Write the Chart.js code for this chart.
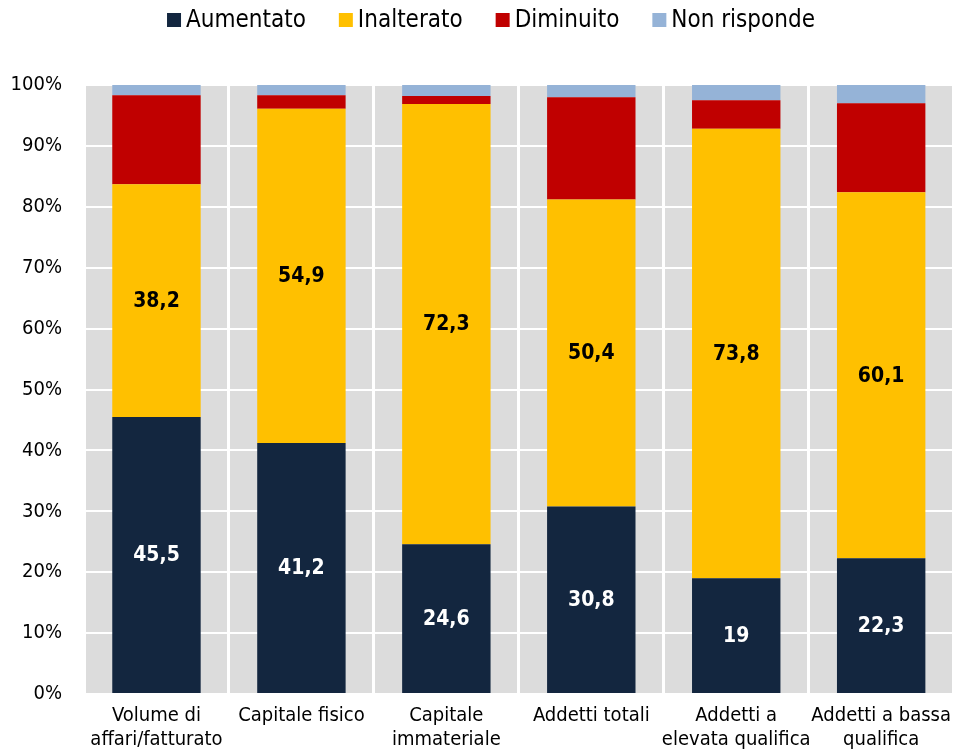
<!DOCTYPE html>
<html>
<head>
<meta charset="utf-8">
<script src="https://cdn.jsdelivr.net/npm/chart.js@4.4.1/dist/chart.umd.min.js"></script>
<style>
  html, body { margin: 0; padding: 0; background: #fff; overflow: hidden; }
  #wrap { width: 961px; height: 753px; position: relative; }
</style>
</head>
<body>
<div id="wrap"><canvas id="chart"></canvas></div>
<script>
// --- Data ---
const categories = [
    ['Volume di', 'affari/fatturato'],
    'Capitale fisico',
    ['Capitale', 'immateriale'],
    'Addetti totali',
    ['Addetti a', 'elevata qualifica'],
    ['Addetti a bassa', 'qualifica']
];
const seriesNames = ['Aumentato', 'Inalterato', 'Diminuito', 'Non risponde'];
const aumentato   = [45.5, 41.2, 24.6, 30.8, 19.0, 22.3];
const inalterato  = [38.2, 54.9, 72.3, 50.4, 73.8, 60.1];
const diminuito   = [14.6, 2.2, 1.3, 16.8, 4.7, 14.6];
const nonRisponde = [1.7, 1.7, 1.8, 2.0, 2.5, 3.0];
const yTicks = [0, 10, 20, 30, 40, 50, 60, 70, 80, 90, 100];

const colors = ['#13263f', '#ffc000', '#c00000', '#95b3d7'];
const FONT = "'Liberation Sans Narrow', 'Arial Narrow', 'DejaVu Sans Condensed', sans-serif";

// grey plot background
const plotBg = {
    id: 'plotBg',
    beforeDraw(chart) {
        const { ctx, chartArea: a } = chart;
        ctx.save();
        ctx.fillStyle = '#dcdcdc';
        ctx.fillRect(a.left, a.top, a.right - a.left, a.bottom - a.top);
        ctx.restore();
    }
};

// value labels on the first two series
const valueLabels = {
    id: 'valueLabels',
    afterDatasetsDraw(chart) {
        const ctx = chart.ctx;
        ctx.save();
        ctx.font = 'bold 21px ' + FONT;
        ctx.textAlign = 'center';
        ctx.textBaseline = 'middle';
        [0, 1].forEach(di => {
            const meta = chart.getDatasetMeta(di);
            const ds = chart.data.datasets[di];
            ctx.fillStyle = di === 0 ? '#ffffff' : '#000000';
            meta.data.forEach((bar, i) => {
                const txt = String(ds.data[i]).replace('.', ',');
                ctx.fillText(txt, bar.x, (bar.y + bar.base) / 2 + 1);
            });
        });
        ctx.restore();
    }
};

// legend on top, compact spacing like the original
const topLegend = {
    id: 'topLegend',
    afterDraw(chart) {
        const ctx = chart.ctx;
        ctx.save();
        ctx.font = '24px ' + FONT;
        ctx.textBaseline = 'middle';
        const box = 14, gap = 5, itemGap = 33;
        const widths = seriesNames.map(n => ctx.measureText(n).width);
        const total = widths.reduce((s, w) => s + box + gap + w, 0) + itemGap * (seriesNames.length - 1);
        let x = 491 - total / 2;
        const cy = 20;
        seriesNames.forEach((n, i) => {
            ctx.fillStyle = colors[i];
            ctx.fillRect(x, cy - box / 2, box, box);
            ctx.fillStyle = '#000';
            ctx.fillText(n, x + box + gap, cy + 1);
            x += box + gap + widths[i] + itemGap;
        });
        ctx.restore();
    }
};

const datasets = [aumentato, inalterato, diminuito, nonRisponde].map((d, i) => ({
    label: seriesNames[i],
    data: d,
    backgroundColor: colors[i],
    borderWidth: 0,
    barPercentage: 0.61,
    categoryPercentage: 1.0
}));

new Chart(document.getElementById('chart'), {
    type: 'bar',
    data: { labels: categories, datasets },
    options: {
        responsive: true,
        maintainAspectRatio: false,
        animation: false,
        layout: { padding: { top: 85, right: 0, bottom: 0, left: 0 } },
        plugins: {
            legend: { display: false },
            tooltip: { enabled: false }
        },
        scales: {
            x: {
                stacked: true,
                offset: true,
                grid: { display: true, offset: true, color: '#ffffff', lineWidth: 3, drawTicks: false },
                border: { display: false },
                ticks: {
                    color: '#000',
                    font: { family: FONT, size: 20, lineHeight: 1.2 },
                    padding: 10,
                    maxRotation: 0,
                    autoSkip: false
                },
                afterFit(scale) { scale.height = 59; }
            },
            y: {
                stacked: true,
                min: 0,
                max: 100,
                afterBuildTicks(scale) { scale.ticks = yTicks.map(v => ({ value: v })); },
                grid: { color: '#ffffff', lineWidth: 2, drawTicks: false },
                border: { display: false },
                ticks: {
                    color: '#000',
                    font: { family: FONT, size: 20 },
                    padding: 22,
                    callback: v => v + '%'
                },
                afterFit(scale) { scale.width = 84; }
            }
        }
    },
    plugins: [plotBg, valueLabels, topLegend]
});
</script>
</body>
</html>
